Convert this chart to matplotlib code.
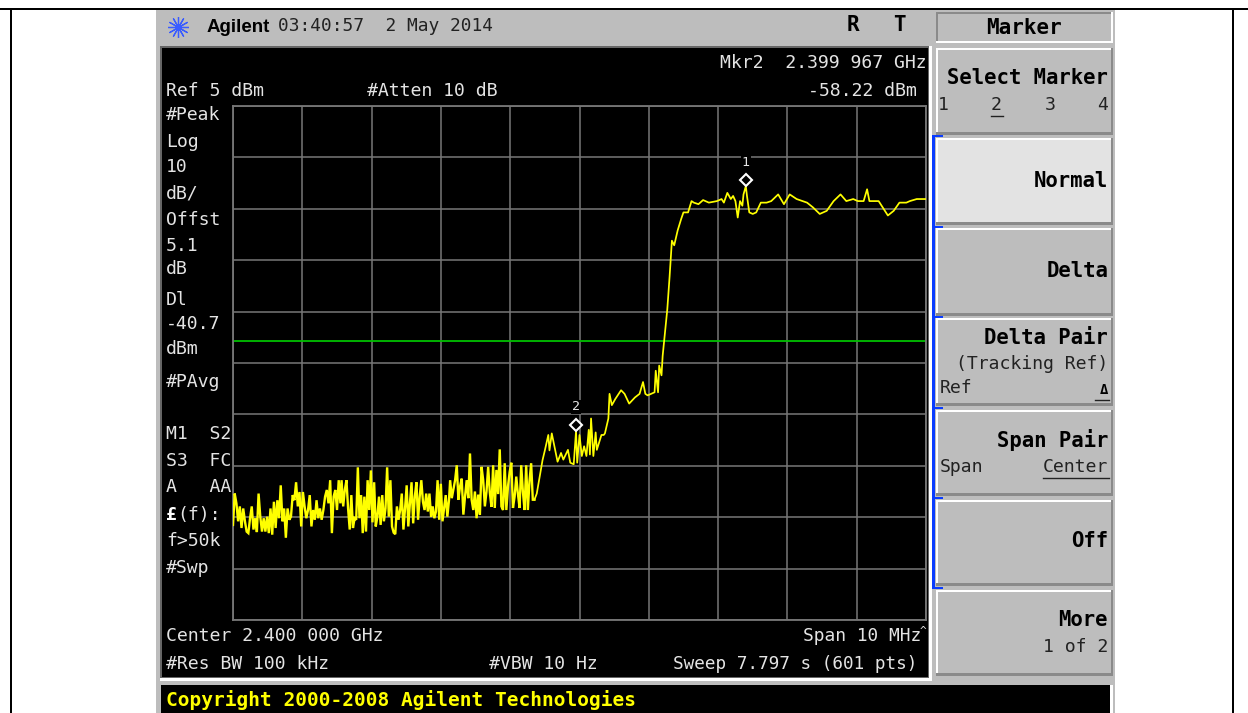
import numpy as np
import matplotlib
matplotlib.use('Agg')
import matplotlib.pyplot as plt
from matplotlib.patches import Rectangle
from matplotlib.transforms import offset_copy

# noise floor in three stretches
noise_a = [-76.5, -70.4, -72.3, -75.8, -72.9, -77.1, -73.3, -75.8, -77.8, -78.1, -75.2, -72.9, -77.4, -75.2, -77.9,
           -70.4, -74.9, -77.8, -75.2, -77.8, -74.9, -78.1, -73.3, -78.4, -72.0, -77.1, -71.7, -75.2, -68.8, -75.8,
           -73.3, -79.0, -73.3, -75.5, -74.9, -70.7, -71.7, -68.2, -72.9, -70.1, -76.8, -70.1, -72.9, -75.2, -73.6,
           -70.7, -76.8, -73.6, -75.5, -71.7, -75.2, -73.3, -75.5, -73.6, -71.0, -69.7, -72.3, -67.8, -78.1, -71.0,
           -69.7, -73.6, -67.8, -72.3]
noise_b = [-67.8, -72.9, -69.7, -67.8, -73.3, -77.4, -70.7, -77.1, -75.2, -75.5, -65.3, -75.2, -70.7, -78.1, -71.0,
           -77.8, -67.8, -73.6, -65.9, -76.0, -68.2, -76.8, -74.9, -71.0, -76.5, -70.7, -75.8, -73.3, -65.3, -74.9,
           -67.8, -76.8, -78.0, -78.3, -72.9, -75.5, -73.6, -70.4, -77.4, -73.3, -68.8, -76.8, -72.3, -68.2, -76.2,
           -71.0, -68.2, -75.5, -71.0, -67.8, -72.0, -73.6, -70.4, -73.9, -70.4, -74.9, -72.9, -75.2, -73.9, -67.8,
           -75.5, -68.5, -75.8, -73.3, -70.7, -74.9, -71.7]
noise_c = [-67.8, -71.3, -69.5, -67.8, -64.9, -71.6, -69.0, -67.5, -74.5, -71.0, -67.8, -71.3, -62.6, -71.6, -73.6,
           -70.0, -75.2, -70.6, -74.5, -65.2, -67.8, -72.9, -70.0, -65.2, -70.2, -73.0, -64.9, -73.2, -65.8, -70.5,
           -61.8, -72.9, -73.6, -64.5, -73.6, -69.0, -66.2, -64.4, -73.2, -71.0, -67.1, -70.5, -73.2, -64.9, -70.0,
           -73.6, -64.9, -73.6, -68.0, -64.5, -71.6, -71.6]
noise_a_start, noise_a_end = 0, 93
noise_b_start, noise_b_end = 94, 187
noise_c_start, noise_c_end = 188, 261

# rising edge and the flat top, sweep point index / level in dBm
edge_idx = [263, 266, 268, 270, 273, 274, 276, 279, 281,
            283, 284, 286, 290, 292, 295, 297, 298, 300, 302, 304, 306, 308, 309, 310, 312, 314, 315, 319, 321, 322,
            325, 326, 328, 331, 336, 339, 343, 348, 352, 355, 357, 359, 365, 366, 368, 369, 371, 372, 374, 376, 377,
            378, 380, 382, 385, 388, 390, 394, 397, 399, 403, 407, 412, 419, 423, 425, 428, 431, 433, 435, 437, 439,
            441, 442, 444, 445, 447, 450, 453, 457, 462, 466, 472, 477, 482, 488, 497, 502, 508, 514, 520, 526, 531,
            537, 541, 546, 549, 551, 559, 567, 572, 577, 583, 586, 592, 598, 600]
edge_dbm = [-70.4, -66.5, -63.9, -62.0, -59.0, -62.0, -58.7, -62.0, -64.2,
            -63.1, -62.5, -63.8, -61.9, -64.4, -64.7, -58.2, -64.4, -59.0, -63.1, -61.2, -63.1, -58.0, -62.8, -55.8,
            -63.1, -58.5, -61.9, -59.0, -59.0, -58.7, -55.8, -51.0, -53.2, -52.0, -50.3, -51.0, -52.9, -51.7, -51.0,
            -48.7, -51.0, -51.3, -50.7, -46.5, -50.7, -45.5, -47.4, -43.6, -39.1, -34.6, -31.4, -28.2, -21.2, -22.1,
            -19.2, -17.0, -15.7, -15.7, -13.5, -13.8, -14.1, -13.3, -13.8, -13.5, -13.1, -13.8, -11.9, -13.1, -12.5,
            -13.5, -16.7, -13.5, -14.4, -12.2, -10.6, -12.5, -15.7, -16.0, -15.7, -13.8, -13.8, -13.5, -12.2, -14.1,
            -12.2, -13.1, -13.8, -14.7, -16.0, -15.4, -13.5, -12.2, -13.5, -13.1, -13.5, -13.5, -11.2, -13.5, -13.5,
            -16.3, -15.4, -13.8, -13.8, -13.5, -13.1, -13.1, -13.1]

display_line = -40.7
marker_idx = [444, 297]
marker_dbm = [-10.6, -58.22]
marker_names = ['1', '2']

screen_left = ['#Peak', 'Log', '10', 'dB/', 'Offst', '5.1', 'dB', 'Dl', '-40.7', 'dBm', '#PAvg',
               'M1  S2', 'S3  FC', 'A   AA', 'f>50k', '#Swp']
screen_left_y = [114, 141, 166, 192, 219, 245, 268, 299, 323, 348, 381, 433, 460, 486, 540, 567]

W, H = 1248, 713
MONO = 'DejaVu Sans Mono'
FACE = '#bdbdbd'
SCREEN_TXT = '#e4e4e4'
BLUE = '#0a3cff'

fig = plt.figure(figsize=(W / 100, H / 100), dpi=100, facecolor='white')

# whole figure in pixels for the instrument panel
bg = fig.add_axes([0, 0, 1, 1])
bg.set_xlim(0, W)
bg.set_ylim(H, 0)
bg.axis('off')


def box(x0, y0, x1, y1, color, z=1):
    bg.add_patch(Rectangle((x0, y0), x1 - x0, y1 - y0, facecolor=color, edgecolor='none', zorder=z))


def txt(x, y, s, size=13.1, color='black', ha='left', weight='normal', family=MONO):
    bg.text(x, y + 1, s, fontsize=size, color=color, ha=ha, va='center', fontweight=weight, family=family, zorder=5)


def button(y0, y1, face=FACE, x0=936, x1=1113):
    box(x0, y0, x1, y1, '#8a8a8a', 2)
    box(x0, y0, x1 - 2, y1 - 3, 'white', 2)
    box(x0 + 2, y0 + 2, x1 - 2, y1 - 3, face, 2)


# page border
box(0, 8, W, 10, 'black')
box(9.5, 8, 11.5, H, 'black')
box(1232, 8, 1234, H, 'black')

# instrument body
box(156, 10, 1115, H, FACE)
box(160, 46, 932, 681, 'white')
box(160, 46, 929, 678, '#666666')
box(162, 48, 928, 677, 'black')
box(161, 685, 1110, H, 'black')
box(1110, 685, 1113, H, 'white')

# softkeys
box(936, 12, 1113, 43, 'white', 2)
box(936, 12, 1111, 41, '#8a8a8a', 2)
box(938, 14, 1111, 41, FACE, 2)
button(48, 135)
button(138, 225, face='#e3e3e3')
button(228, 316)
button(318, 406)
button(410, 496)
button(500, 586)
button(590, 676)

box(932, 135, 934.6, 589, BLUE, 3)
for yb in [135, 226, 316, 407, 497, 587]:
    box(932, yb, 943, yb + 2.4, BLUE, 3)

# header
bg.plot([178], [27], marker=(12, 2, 0), ms=15, mew=0.9, color='#3a5cff', zorder=5)
txt(207, 26, 'Agilent', size=13.5, weight='bold', family='Liberation Sans')
txt(278, 25, '03:40:57  2 May 2014', size=12.9, color='#222222')
txt(847, 24, 'R', size=15, weight='bold')
txt(893, 24, 'T', size=15, weight='bold')

# text on the screen
txt(166, 90, 'Ref 5 dBm', color=SCREEN_TXT)
txt(367, 90, '#Atten 10 dB', color=SCREEN_TXT)
txt(927, 62, 'Mkr2  2.399 967 GHz', color=SCREEN_TXT, ha='right')
txt(917, 90, '-58.22 dBm', color=SCREEN_TXT, ha='right')
for s, yy in zip(screen_left, screen_left_y):
    txt(166, yy, s, color=SCREEN_TXT)
txt(166, 514, '£', color='white', weight='bold')
txt(177, 514, '(f):', color=SCREEN_TXT)
txt(166, 635, 'Center 2.400 000 GHz', color=SCREEN_TXT)
txt(921, 635, 'Span 10 MHz', size=12.9, color=SCREEN_TXT, ha='right')
txt(920, 630, '^', size=8, color=SCREEN_TXT)
txt(166, 663, '#Res BW 100 kHz', color=SCREEN_TXT)
txt(489, 663, '#VBW 10 Hz', color=SCREEN_TXT)
txt(917, 663, 'Sweep 7.797 s (601 pts)', size=12.7, color=SCREEN_TXT, ha='right')
txt(166, 699, 'Copyright 2000-2008 Agilent Technologies', size=14, color='#ffff00', weight='bold')

# softkey labels
txt(1024, 27, 'Marker', size=15, weight='bold', ha='center')
txt(1108, 77, 'Select Marker', size=14.9, weight='bold', ha='right')
txt(938, 104, '1', color='#222222')
txt(991, 104, '2', color='#222222')
txt(1045, 104, '3', color='#222222')
txt(1097, 104, '4', color='#222222')
txt(1108, 180, 'Normal', size=14.9, weight='bold', ha='right')
txt(1108, 270, 'Delta', size=14.9, weight='bold', ha='right')
txt(1108, 337, 'Delta Pair', size=14.9, weight='bold', ha='right')
txt(1108, 363, '(Tracking Ref)', color='#222222', ha='right')
txt(940, 387, 'Ref', color='#222222')
txt(1108, 389, '\u0394', size=10, weight='bold', ha='right')
txt(1108, 439, 'Span Pair', size=14.9, weight='bold', ha='right')
txt(940, 466, 'Span', color='#222222')
txt(1108, 466, 'Center', color='#222222', ha='right')
txt(1108, 540, 'Off', size=14.9, weight='bold', ha='right')
txt(1108, 619, 'More', size=14.9, weight='bold', ha='right')
txt(1108, 646, '1 of 2', color='#222222', ha='right')
for xa, xb, yy in [(991, 1003, 116), (1095, 1109, 400), (1043, 1109, 478)]:
    bg.plot([xa, xb], [yy, yy], color='#222222', lw=1.0, zorder=5)

# the trace
ax = fig.add_axes([233 / W, 1 - 620 / H, 693 / W, 514 / H], facecolor='black')
ax.set_xlim(0, 600)
ax.set_ylim(-95, 5)
ax.set_xticks(np.arange(0, 601, 60))
ax.set_yticks(np.arange(-95, 6, 10))
ax.tick_params(length=0, labelbottom=False, labelleft=False)
ax.grid(True, color='#777777', linewidth=1.1)
ax.set_axisbelow(True)
for sp in ax.spines.values():
    sp.set_color('#777777')
    sp.set_linewidth(1.3)

noise_idx = np.concatenate([
    np.linspace(noise_a_start, noise_a_end, len(noise_a)),
    np.linspace(noise_b_start, noise_b_end, len(noise_b)),
    np.linspace(noise_c_start, noise_c_end, len(noise_c)),
])
noise_dbm = np.concatenate([noise_a, noise_b, noise_c])

ax.axhline(display_line, color='#00c000', linewidth=1.3, zorder=2)
ax.plot(noise_idx, noise_dbm, color='#ffff00', linewidth=1.7, zorder=3, solid_joinstyle='miter')
ax.plot(np.r_[noise_idx[-1], edge_idx], np.r_[noise_dbm[-1], edge_dbm], color='#ffff00', linewidth=1.25, zorder=3)

up = offset_copy(ax.transData, fig=fig, x=0, y=6, units='dots')
ax.plot(marker_idx, marker_dbm, 'D', transform=up, ms=6.5, mfc='black', mec='white', mew=1.5, zorder=4)
for m, v, name in zip(marker_idx, marker_dbm, marker_names):
    ax.annotate(name, (m, v), xytext=(0, 24), textcoords='offset pixels', ha='center', va='center', fontsize=9.5,
                color=SCREEN_TXT, family=MONO, zorder=4, annotation_clip=False,
                bbox=dict(facecolor='black', edgecolor='none', pad=0.6))

fig.savefig('out.png', dpi=100, facecolor='white')
